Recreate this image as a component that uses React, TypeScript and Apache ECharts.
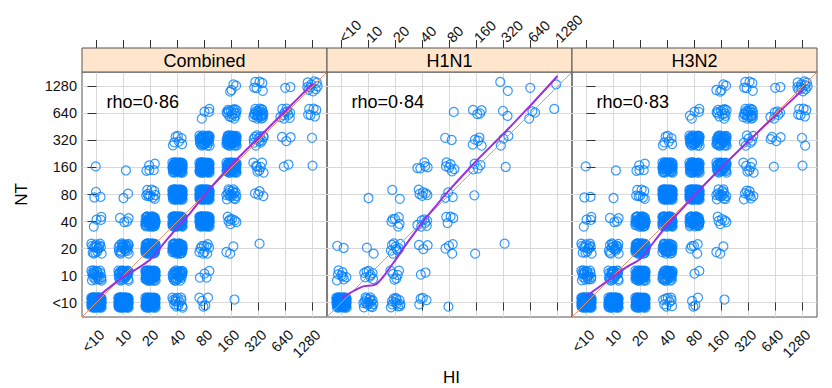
import React, { useEffect, useRef } from "react";
import * as echarts from "echarts";

// ---- data ----
const TITER_LABELS = ["<10", "10", "20", "40", "80", "160", "320", "640", "1280"];
const PANEL_NAMES = ["Combined", "H1N1", "H3N2"];
const RHO_TEXT = ["rho=0·86", "rho=0·84", "rho=0·83"];

// [HI index, NT index, number of sera in the cell]
const COMBINED_CELLS: number[][] = [
  [5, 8, 4], [6, 8, 6], [7, 8, 2], [8, 8, 10],
  [4, 7, 4], [5, 7, 15], [6, 7, 22], [7, 7, 10], [8, 7, 6],
  [3, 6, 7], [4, 6, 35], [5, 6, 45], [6, 6, 12], [7, 6, 3], [8, 6, 1],
  [0, 5, 1], [1, 5, 1], [2, 5, 5], [3, 5, 55], [4, 5, 70], [5, 5, 55], [6, 5, 8], [7, 5, 2], [8, 5, 1],
  [0, 4, 3], [1, 4, 2], [2, 4, 10], [3, 4, 70], [4, 4, 70], [5, 4, 16], [6, 4, 4],
  [0, 3, 4], [1, 3, 4], [2, 3, 50], [3, 3, 70], [4, 3, 70], [5, 3, 7],
  [0, 2, 16], [1, 2, 22], [2, 2, 60], [3, 2, 50], [4, 2, 10], [5, 2, 3], [6, 2, 1],
  [0, 1, 22], [1, 1, 32], [2, 1, 60], [3, 1, 28], [4, 1, 4],
  [0, 0, 80], [1, 0, 80], [2, 0, 70], [3, 0, 14], [4, 0, 5], [5, 0, 1],
];

const H1N1_CELLS: number[][] = [
  [6, 8, 2], [7, 8, 1], [8, 8, 1],
  [4, 7, 1], [5, 7, 4], [6, 7, 2], [7, 7, 3], [8, 7, 1],
  [4, 6, 2], [5, 6, 5], [6, 6, 3],
  [3, 5, 5], [4, 5, 6], [5, 5, 4], [6, 5, 1],
  [1, 4, 1], [2, 4, 2], [3, 4, 6], [4, 4, 3], [5, 4, 1],
  [2, 3, 6], [3, 3, 7], [4, 3, 4],
  [0, 2, 2], [1, 2, 2], [2, 2, 9], [3, 2, 3], [4, 2, 4], [5, 2, 1], [6, 2, 1],
  [0, 1, 8], [1, 1, 8], [2, 1, 6], [3, 1, 2],
  [0, 0, 60], [1, 0, 16], [2, 0, 12], [3, 0, 4], [4, 0, 1],
];

const H3N2_CELLS: number[][] = [
  [5, 8, 5], [6, 8, 6], [7, 8, 2], [8, 8, 12],
  [4, 7, 5], [5, 7, 12], [6, 7, 20], [7, 7, 6], [8, 7, 6],
  [3, 6, 7], [4, 6, 35], [5, 6, 35], [6, 6, 7], [7, 6, 4], [8, 6, 2],
  [0, 5, 1], [1, 5, 1], [2, 5, 5], [3, 5, 45], [4, 5, 50], [5, 5, 35], [6, 5, 7], [7, 5, 1], [8, 5, 1],
  [0, 4, 2], [1, 4, 1], [2, 4, 8], [3, 4, 70], [4, 4, 70], [5, 4, 14], [6, 4, 8],
  [0, 3, 4], [1, 3, 4], [2, 3, 45], [3, 3, 55], [4, 3, 40], [5, 3, 6],
  [0, 2, 14], [1, 2, 16], [2, 2, 55], [3, 2, 35], [4, 2, 5], [5, 2, 3],
  [0, 1, 20], [1, 1, 24], [2, 1, 50], [3, 1, 35], [4, 1, 2],
  [0, 0, 70], [1, 0, 70], [2, 0, 70], [3, 0, 9], [4, 0, 4], [5, 0, 1],
];

// loess smooth, [HI index, NT index]
const COMBINED_LOESS: number[][] = [
  [0, 0.17], [1, 0.96], [1.5, 1.25], [2, 1.6], [2.5, 2.2], [3, 2.78], [3.5, 3.35],
  [4, 3.98], [5, 5.1], [6, 6.1], [7, 7.1], [8, 8.1],
];
const H1N1_LOESS: number[][] = [
  [0, 0.16], [0.75, 0.58], [1.25, 0.66], [1.55, 0.96], [2, 1.58], [2.5, 2.3], [3, 2.97],
  [3.5, 3.58], [4, 4.17], [5, 5.25], [6, 6.25], [7, 7.3], [8, 8.39],
];
const H3N2_LOESS: number[][] = [
  [0, 0.24], [1, 0.96], [1.5, 1.32], [2, 1.62], [2.5, 2.25], [3, 2.88], [3.5, 3.42],
  [4, 3.98], [5, 5.0], [6, 5.98], [7, 6.93], [8, 7.87],
];

// fixed jitter offsets (display only, in axis units)
const JITTER: number[][] = [
  [-0.05, 0.08], [0.12, -0.1], [-0.15, -0.12], [0.16, 0.14], [0.02, -0.18],
  [-0.18, 0.15], [0.19, 0.01], [-0.08, -0.03], [0.07, 0.19], [-0.19, -0.02],
  [0.1, 0.05], [-0.03, -0.08], [0.14, -0.17], [-0.11, 0.19], [0.04, 0.12],
  [-0.13, 0.04], [0.18, -0.06], [-0.01, 0.0], [0.09, -0.14], [-0.17, -0.18],
  [0.05, -0.04], [-0.07, 0.14], [0.15, 0.09], [-0.12, -0.07], [0.01, 0.17],
  [0.17, -0.13], [-0.16, 0.1], [0.08, 0.02], [-0.04, -0.15], [0.13, 0.18],
  [-0.09, 0.06], [0.03, -0.11], [-0.19, 0.18], [0.19, -0.19], [-0.06, 0.03],
  [0.11, 0.11], [-0.14, -0.15], [0.06, -0.01], [-0.02, 0.15], [0.16, 0.06],
  [-0.1, -0.19], [0.0, 0.07], [0.18, 0.17], [-0.17, -0.08], [0.08, -0.08],
  [-0.06, 0.19], [0.13, 0.0], [-0.13, 0.13], [0.03, -0.02], [0.19, 0.12],
  [-0.18, 0.05], [0.06, 0.14], [-0.08, -0.11], [0.15, -0.09], [-0.02, 0.1],
  [0.1, -0.19], [-0.15, 0.0], [0.12, 0.16], [-0.1, 0.09], [0.0, -0.13],
  [0.17, 0.03], [-0.05, -0.19], [0.07, 0.08], [-0.19, -0.13], [0.11, -0.05],
  [-0.03, 0.04], [0.16, -0.16], [-0.12, 0.17], [0.04, 0.18], [-0.07, -0.06],
  [0.14, 0.13], [-0.16, -0.04], [0.09, -0.11], [-0.01, -0.05], [0.18, -0.02],
  [-0.11, 0.02], [0.02, 0.09], [-0.14, 0.18], [0.12, 0.04], [-0.04, -0.1],
];

const AXIS_MIN = -0.537;
const AXIS_MAX = 8.537;

// ---- layout / style ----
const PANEL_LEFT = [82, 327, 572];
const PANEL_TOP = 72;
const PANEL_SIZE = 245;
const STRIP_H = 24;
const FONT = "'Liberation Sans', Arial, Helvetica, sans-serif";
const FRAME = "#555555";
const TICK = "#333333";
const TEXT = "#111111";
const GRIDLINE = "#d9d9d9";
const POINT = "#0080ff";
const DIAG = "#f0936a";
const LOESS = "#9b2ee0";

function jitterCells(cells: number[][]): number[][] {
  const pts: number[][] = [];
  cells.forEach(([cx, cy, n]) => {
    const start = (cx * 7 + cy * 13) % JITTER.length;
    for (let k = 0; k < n; k++) {
      const [dx, dy] = JITTER[(start + k) % JITTER.length];
      pts.push([cx + dx, cy + dy]);
    }
  });
  return pts;
}

export default function App() {
  const ref = useRef<HTMLDivElement>(null);

  useEffect(() => {
    if (!ref.current) return;
    const chart = echarts.init(ref.current, undefined, { renderer: "svg" });
    const tickValues = TITER_LABELS.map((_, i) => i);
    const cellsByPanel = [COMBINED_CELLS, H1N1_CELLS, H3N2_CELLS];
    const loessByPanel = [COMBINED_LOESS, H1N1_LOESS, H3N2_LOESS];
    const fmt = (v: number) => TITER_LABELS[Math.round(v)] ?? "";

    const grids = PANEL_LEFT.map((l) => ({
      left: l,
      top: PANEL_TOP,
      width: PANEL_SIZE,
      height: PANEL_SIZE,
      show: true,
      borderColor: FRAME,
      borderWidth: 1,
      backgroundColor: "transparent",
    }));

    const bottomX = PANEL_LEFT.map((_, i) => ({
      type: "value",
      gridIndex: i,
      position: "bottom",
      min: AXIS_MIN,
      max: AXIS_MAX,
      axisLine: { show: false },
      axisTick: { show: true, inside: false, length: 8, customValues: tickValues, lineStyle: { color: TICK } },
      axisLabel: {
        show: i !== 1,
        customValues: tickValues,
        rotate: 45,
        margin: 10,
        verticalAlign: "top",
        formatter: fmt,
        fontSize: 14.5,
        fontFamily: FONT,
        color: TEXT,
      },
      splitLine: { show: true, lineStyle: { color: GRIDLINE, width: 1 } },
    }));

    const topX = PANEL_LEFT.map((_, i) => ({
      type: "value",
      gridIndex: i,
      position: "top",
      offset: STRIP_H,
      min: AXIS_MIN,
      max: AXIS_MAX,
      axisLine: { show: false },
      axisTick: { show: true, inside: false, length: 8, customValues: tickValues, lineStyle: { color: TICK } },
      axisLabel: {
        show: i === 1,
        customValues: tickValues,
        rotate: -45,
        margin: 8,
        formatter: fmt,
        fontSize: 14.5,
        fontFamily: FONT,
        color: TEXT,
      },
      splitLine: { show: false },
    }));

    const yAxes = PANEL_LEFT.map((_, i) => ({
      type: "value",
      gridIndex: i,
      position: i === 2 ? "right" : "left",
      min: AXIS_MIN,
      max: AXIS_MAX,
      axisLine: { show: false },
      axisTick: { show: i !== 1, inside: false, length: 9, customValues: tickValues, lineStyle: { color: TICK } },
      axisLabel: {
        show: i === 0,
        customValues: tickValues,
        margin: 5,
        formatter: fmt,
        fontSize: 14.5,
        fontFamily: FONT,
        color: TEXT,
      },
      splitLine: { show: true, lineStyle: { color: GRIDLINE, width: 1 } },
    }));

    const series: any[] = [];
    PANEL_LEFT.forEach((_, i) => {
      series.push({
        type: "scatter",
        xAxisIndex: i,
        yAxisIndex: i,
        data: jitterCells(cellsByPanel[i]),
        symbol: "circle",
        symbolSize: 9,
        itemStyle: { color: "rgba(0,0,0,0)", borderColor: POINT, borderWidth: 1.2 },
        silent: true,
        z: 2,
      });
      series.push({
        type: "line",
        xAxisIndex: i,
        yAxisIndex: i,
        data: [[AXIS_MIN, AXIS_MIN], [AXIS_MAX, AXIS_MAX]],
        showSymbol: false,
        lineStyle: { color: DIAG, width: 1 },
        silent: true,
        z: 3,
      });
      series.push({
        type: "line",
        xAxisIndex: i,
        yAxisIndex: i,
        data: loessByPanel[i],
        showSymbol: false,
        smooth: 0.3,
        lineStyle: { color: LOESS, width: 2 },
        silent: true,
        z: 4,
      });
    });

    const graphics: any[] = [];
    PANEL_LEFT.forEach((l, i) => {
      graphics.push({
        type: "rect",
        shape: { x: l, y: PANEL_TOP - STRIP_H, width: PANEL_SIZE, height: STRIP_H },
        style: { fill: "#ffe5cc", stroke: FRAME, lineWidth: 1 },
        z: 10,
      });
      graphics.push({
        type: "text",
        x: l + PANEL_SIZE / 2,
        y: PANEL_TOP - STRIP_H / 2 + 1,
        style: {
          text: PANEL_NAMES[i],
          fontSize: 18,
          fontFamily: FONT,
          fill: "#000",
          align: "center",
          verticalAlign: "middle",
        },
        z: 11,
      });
      graphics.push({
        type: "text",
        x: l + 24.5,
        y: 102,
        style: {
          text: RHO_TEXT[i],
          fontSize: 18,
          fontFamily: FONT,
          fill: "#000",
          align: "left",
          verticalAlign: "middle",
        },
        z: 11,
      });
    });
    graphics.push({
      type: "text",
      x: (PANEL_LEFT[0] + PANEL_LEFT[2] + PANEL_SIZE) / 2 + 2,
      y: 377,
      style: { text: "HI", fontSize: 17, fontFamily: FONT, fill: "#000", align: "center", verticalAlign: "middle" },
    });
    graphics.push({
      type: "text",
      x: 21,
      y: PANEL_TOP + PANEL_SIZE / 2,
      rotation: Math.PI / 2,
      style: { text: "NT", fontSize: 17, fontFamily: FONT, fill: "#000", align: "center", verticalAlign: "middle" },
    });

    chart.setOption({
      animation: false,
      backgroundColor: "#ffffff",
      grid: grids,
      xAxis: [...bottomX, ...topX],
      yAxis: yAxes,
      series,
      graphic: graphics,
    });

    return () => chart.dispose();
  }, []);

  return (
    <div
      ref={ref}
      style={{ position: "absolute", left: 0, top: 0, width: 832, height: 388 }}
    />
  );
}
